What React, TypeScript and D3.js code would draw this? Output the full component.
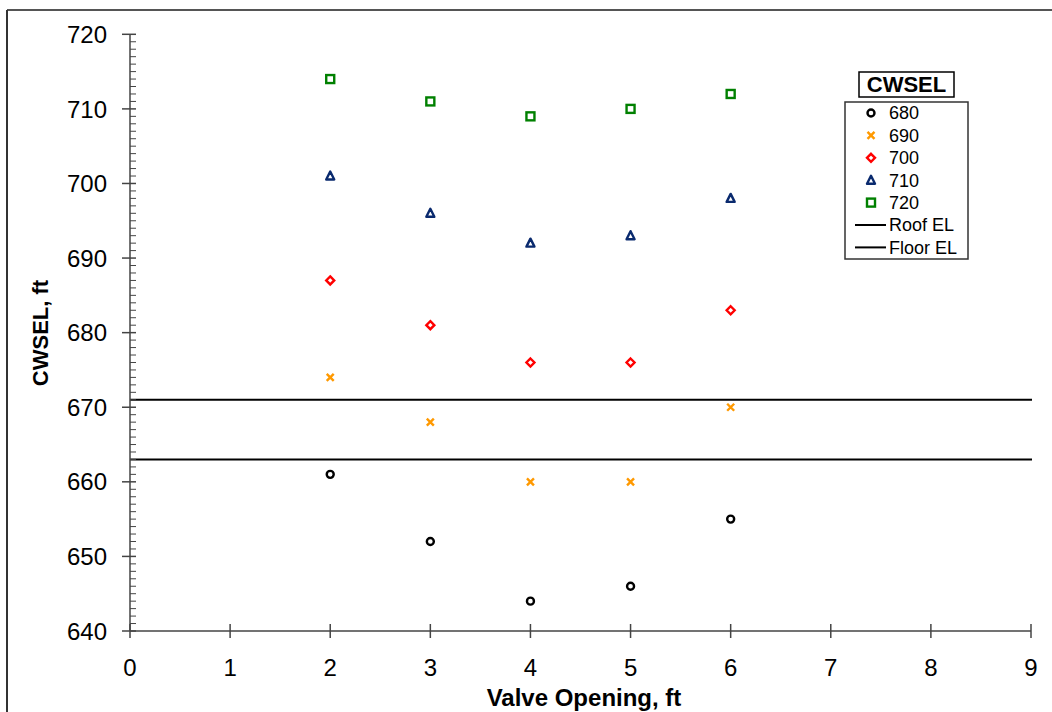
import React from "react";
import * as d3 from "d3";

const valveOpenings = [2, 3, 4, 5, 6];
const seriesNames = ["680", "690", "700", "710", "720"];
const s680 = [661, 652, 644, 646, 655];
const s690 = [674, 668, 660, 660, 670];
const s700 = [687, 681, 676, 676, 683];
const s710 = [701, 696, 692, 693, 698];
const s720 = [714, 711, 709, 710, 712];
const roofEL = 671;
const floorEL = 663;
const xTicks = [0, 1, 2, 3, 4, 5, 6, 7, 8, 9];
const yTicks = [640, 650, 660, 670, 680, 690, 700, 710, 720];

const W = 1052;
const H = 712;
const FONT = "'Liberation Sans', Arial, sans-serif";

type Shape = "circle" | "x" | "diamond" | "triangle" | "square";
const seriesStyle: { shape: Shape; color: string }[] = [
  { shape: "circle", color: "#000000" },
  { shape: "x", color: "#FF9900" },
  { shape: "diamond", color: "#FF0000" },
  { shape: "triangle", color: "#0A2A6E" },
  { shape: "square", color: "#008000" },
];

function Marker({ shape, color, x, y }: { shape: Shape; color: string; x: number; y: number }) {
  const sw = 2.4;
  switch (shape) {
    case "circle":
      return <circle cx={x} cy={y} r={3.5} fill="white" stroke={color} strokeWidth={sw} />;
    case "x":
      return (
        <path
          d={`M${x - 3.5},${y - 3.5}L${x + 3.5},${y + 3.5}M${x - 3.5},${y + 3.5}L${x + 3.5},${y - 3.5}`}
          stroke={color}
          strokeWidth={sw}
          fill="none"
        />
      );
    case "diamond":
      return (
        <path
          d={`M${x},${y - 4}L${x + 4},${y}L${x},${y + 4}L${x - 4},${y}Z`}
          stroke={color}
          strokeWidth={sw}
          fill="white"
        />
      );
    case "triangle":
      return (
        <path
          d={`M${x},${y - 4.5}L${x + 4},${y + 3.5}L${x - 4},${y + 3.5}Z`}
          stroke={color}
          strokeWidth={sw}
          fill="white"
          strokeLinejoin="round"
        />
      );
    case "square":
      return <rect x={x - 4} y={y - 4} width={8} height={8} stroke={color} strokeWidth={sw} fill="white" />;
  }
}

export default function App() {
  const series = [s680, s690, s700, s710, s720];
  const x = d3.scaleLinear().domain([0, 9]).range([130, 1031]);
  const y = d3.scaleLinear().domain([640, 720]).range([631, 34.3]);
  const minorY = d3.range(641, 720, 1).filter((v) => v % 10 !== 0);

  const legendRows = [
    ...seriesNames.map((n, i) => ({ label: n, kind: "marker" as const, i })),
    { label: "Roof EL", kind: "line" as const, i: 5 },
    { label: "Floor EL", kind: "line" as const, i: 6 },
  ];

  return (
    <svg
      width={W}
      height={H}
      style={{ position: "absolute", left: 0, top: 0, background: "white" }}
      fontFamily={FONT}
    >
      <rect x={0} y={0} width={W} height={H} fill="white" />
      {/* outer frame */}
      <line x1={7} y1={10} x2={W} y2={10} stroke="#555" strokeWidth={2} />
      <line x1={7} y1={10} x2={7} y2={H} stroke="#333" strokeWidth={2} />

      {/* horizontal reference lines */}
      <line x1={x(0)} x2={1032} y1={y(roofEL)} y2={y(roofEL)} stroke="#000" strokeWidth={2} />
      <line x1={x(0)} x2={1032} y1={y(floorEL)} y2={y(floorEL)} stroke="#000" strokeWidth={2} />

      {/* y axis */}
      <line x1={x(0)} x2={x(0)} y1={y(720)} y2={y(640)} stroke="#444" strokeWidth={1.5} />
      {minorY.map((v) => (
        <line key={"m" + v} x1={x(0)} x2={x(0) + 6} y1={y(v)} y2={y(v)} stroke="#444" strokeWidth={1} />
      ))}
      {yTicks.map((v) => (
        <g key={"y" + v}>
          <line x1={x(0) - 8} x2={x(0) + 6} y1={y(v)} y2={y(v)} stroke="#444" strokeWidth={1.5} />
          <text x={107} y={y(v)} dy="0.36em" textAnchor="end" fontSize={24} fill="#000">
            {v}
          </text>
        </g>
      ))}

      {/* x axis */}
      <line x1={x(0)} x2={x(9)} y1={y(640)} y2={y(640)} stroke="#444" strokeWidth={1.5} />
      {xTicks.map((v) => (
        <g key={"x" + v}>
          <line x1={x(v)} x2={x(v)} y1={y(640) - 7} y2={y(640) + 7} stroke="#444" strokeWidth={1.5} />
          <text x={x(v)} y={676} textAnchor="middle" fontSize={24} fill="#000">
            {v}
          </text>
        </g>
      ))}

      {/* axis titles */}
      <text x={584} y={706} textAnchor="middle" fontSize={24} fontWeight="bold" fill="#000">
        Valve Opening, ft
      </text>
      <text
        transform={`translate(48,333) rotate(-90)`}
        textAnchor="middle"
        fontSize={22}
        fontWeight="bold"
        fill="#000"
      >
        CWSEL, ft
      </text>

      {/* data */}
      {series.map((vals, si) =>
        vals.map((v, j) => (
          <Marker
            key={si + "-" + j}
            shape={seriesStyle[si].shape}
            color={seriesStyle[si].color}
            x={x(valveOpenings[j])}
            y={y(v)}
          />
        ))
      )}

      {/* legend */}
      <rect x={859} y={72} width={95} height={25} fill="white" stroke="#000" strokeWidth={1.5} />
      <text x={906.5} y={92} textAnchor="middle" fontSize={22} fontWeight="bold" fill="#000">
        CWSEL
      </text>
      <rect x={845} y={102} width={123} height={157} fill="white" stroke="#333" strokeWidth={1.5} />
      {legendRows.map((r, k) => {
        const ry = 113 + k * 22.4;
        return (
          <g key={"l" + k}>
            {r.kind === "marker" ? (
              <Marker shape={seriesStyle[r.i].shape} color={seriesStyle[r.i].color} x={871} y={ry} />
            ) : (
              <line x1={855} x2={886} y1={ry} y2={ry} stroke="#000" strokeWidth={2} />
            )}
            <text x={889} y={ry} dy="0.36em" fontSize={18} fill="#000">
              {r.label}
            </text>
          </g>
        );
      })}
    </svg>
  );
}
